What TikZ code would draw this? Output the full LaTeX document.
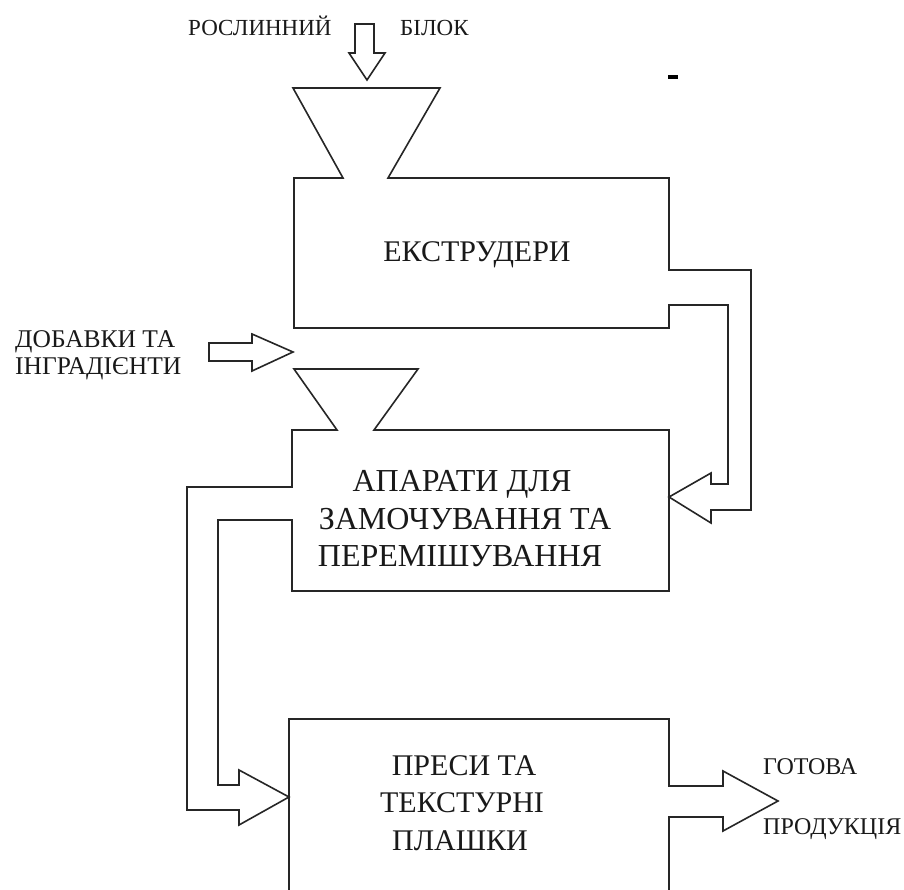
\documentclass[tikz,border=0pt]{standalone}
\usepackage{fontspec}
\setmainfont{Liberation Serif}
\begin{document}
\begin{tikzpicture}[x=1pt,y=-1pt,line join=miter,
  ln/.style={draw=black!85,line width=1.6pt},
  big/.style={font=\fontsize{30}{36}\selectfont,inner sep=0pt,anchor=base,text=black!90},
  bigger/.style={big,font=\fontsize{32}{38}\selectfont},
  lbl/.style={font=\fontsize{23}{27}\selectfont,inner sep=0pt,anchor=base west,text=black!90}]
\useasboundingbox (0,0) rectangle (904,890);
\fill[white] (0,0) rectangle (904,890);
\begin{scope}
\clip (0,0) rectangle (904,890);
% box 1 with hopper and arrow to box 2
\draw[ln] (669,271) -- (669,178) -- (388,178) -- (440,88) -- (293,88) -- (343,178)
  -- (294,178) -- (294,328) -- (669,328) -- (669,305) -- (728,305) -- (728,484)
  -- (711,484) -- (711,473) -- (669,497) -- (711,523) -- (711,510) -- (751,510)
  -- (751,270) -- (669,270);
% box 2 with hopper and arrow to box 3
\draw[ln] (292,487) -- (292,430) -- (337,430) -- (294,369) -- (418,369) -- (374,430)
  -- (669,430) -- (669,591) -- (292,591) -- (292,520) -- (218,520) -- (218,785)
  -- (239,785) -- (239,770) -- (289,797) -- (239,825) -- (239,810) -- (187,810)
  -- (187,487) -- cycle;
% box 3 and output arrow
\draw[ln] (289,900) -- (289,719) -- (669,719) -- (669,786) -- (723,786) -- (723,771)
  -- (778,801) -- (723,831) -- (723,817) -- (669,817) -- (669,900);
% input arrows
\draw[ln] (355,24) -- (374,24) -- (374,53) -- (385,53) -- (367,80) -- (349,53) -- (355,53) -- cycle;
\draw[ln] (209,343) -- (252,343) -- (252,334) -- (293,352) -- (252,371) -- (252,361) -- (209,361) -- cycle;
\fill[black] (668,75) rectangle (678,79);
\end{scope}
% labels
\node[lbl] (l1) at (188,36) {РОСЛИННИЙ};
\node[lbl] (l2) at (400,36) {БІЛОК};
\node[lbl,font=\fontsize{25.5}{30}\selectfont] (l3) at (15,347) {ДОБАВКИ ТА};
\node[lbl,font=\fontsize{25.5}{30}\selectfont] (l4) at (15,374) {ІНГРАДІЄНТИ};
\node[lbl,font=\fontsize{24}{28}\selectfont] (l5) at (763,774) {ГОТОВА};
\node[lbl,font=\fontsize{24}{28}\selectfont] (l6) at (763,834) {ПРОДУКЦІЯ};
% box texts
\node[big] (t1) at (477,262) {ЕКСТРУДЕРИ};
\node[bigger] (t2a) at (462,491) {АПАРАТИ ДЛЯ};
\node[bigger] (t2b) at (465,529) {ЗАМОЧУВАННЯ ТА};
\node[bigger] (t2c) at (460,566) {ПЕРЕМІШУВАННЯ};
\node[big] (t3a) at (464,775) {ПРЕСИ ТА};
\node[big] (t3b) at (462,812) {ТЕКСТУРНІ};
\node[big] (t3c) at (460,850) {ПЛАШКИ};
\end{tikzpicture}
\end{document}
